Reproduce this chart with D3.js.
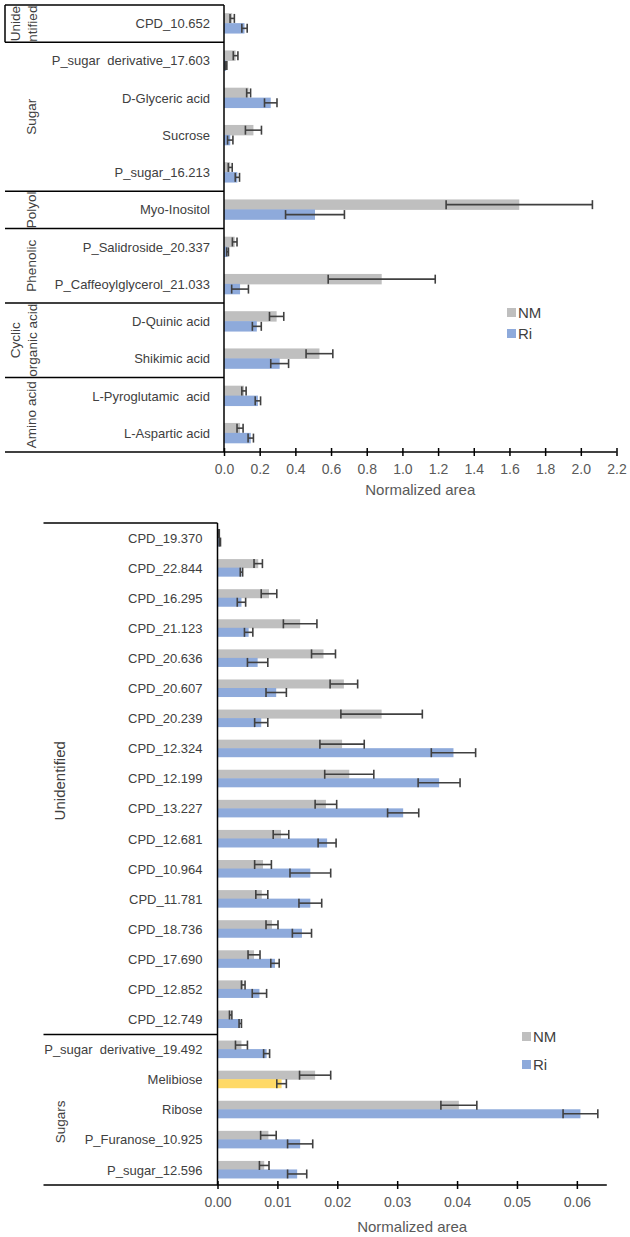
<!DOCTYPE html>
<html><head><meta charset="utf-8">
<script src="https://cdn.jsdelivr.net/npm/d3@7"></script>
<style>
body{margin:0;background:#fff}
text{font-family:"Liberation Sans",Arial,sans-serif}
</style>
</head><body>
<svg id="chart" width="630" height="1237"></svg>
<script>
// ---------- Top panel data ----------
const topCategories = ["CPD_10.652","P_sugar  derivative_17.603","D-Glyceric acid","Sucrose","P_sugar_16.213","Myo-Inositol","P_Salidroside_20.337","P_Caffeoylglycerol_21.033","D-Quinic acid","Shikimic acid","L-Pyroglutamic  acid","L-Aspartic acid"];
const topNM    = [0.046,0.065,0.138,0.165,0.035,1.655,0.060,0.884,0.295,0.535,0.112,0.090];
const topNMErr = [0.012,0.013,0.011,0.045,0.011,0.410,0.013,0.300,0.040,0.075,0.012,0.017];
const topRi    = [0.115,0.012,0.262,0.035,0.075,0.510,0.020,0.090,0.184,0.312,0.190,0.150];
const topRiErr = [0.015,0.004,0.035,0.015,0.012,0.165,0.005,0.047,0.025,0.050,0.015,0.015];
const topGroupLabels = [["Unide","ntified"],["Sugar"],["Polyol"],["Phenolic"],["Cyclic","organic acid"],["Amino acid"]];
const topGroupSizes = [1,4,1,2,2,2];
const topTickLabels = ["0.0","0.2","0.4","0.6","0.8","1.0","1.2","1.4","1.6","1.8","2.0","2.2"];

// ---------- Bottom panel data ----------
const botCategories = ["CPD_19.370","CPD_22.844","CPD_16.295","CPD_21.123","CPD_20.636","CPD_20.607","CPD_20.239","CPD_12.324","CPD_12.199","CPD_13.227","CPD_12.681","CPD_10.964","CPD_11.781","CPD_18.736","CPD_17.690","CPD_12.852","CPD_12.749","P_sugar  derivative_19.492","Melibiose","Ribose","P_Furanose_10.925","P_sugar_12.596"];
const botNM    = [0.0002,0.0068,0.0086,0.0138,0.0177,0.0211,0.0274,0.0208,0.0220,0.0181,0.0106,0.0076,0.0074,0.0091,0.0061,0.0043,0.0022,0.0040,0.0163,0.0403,0.0085,0.0078];
const botNMErr = [0.0001,0.0007,0.0013,0.0028,0.0020,0.0023,0.0068,0.0037,0.0041,0.0018,0.0013,0.0014,0.0010,0.0010,0.0010,0.0003,0.0002,0.0010,0.0026,0.0030,0.0013,0.0008];
const botRi    = [0.0004,0.0040,0.0040,0.0052,0.0067,0.0098,0.0073,0.0394,0.0370,0.0310,0.0183,0.0155,0.0155,0.0141,0.0096,0.0070,0.0038,0.0082,0.0107,0.0606,0.0138,0.0133];
const botRiErr = [0.0001,0.0002,0.0007,0.0007,0.0017,0.0017,0.0011,0.0037,0.0035,0.0026,0.0015,0.0034,0.0019,0.0016,0.0007,0.0012,0.0002,0.0005,0.0008,0.0029,0.0021,0.0016];
const botGroupLabels = [["Unidentified"],["Sugars"]];
const botGroupSizes = [17,5];
const botTickLabels = ["0.00","0.01","0.02","0.03","0.04","0.05","0.06"];
const seriesNames = ["NM","Ri"];
const highlightCategory = "Melibiose";

// ---------- Styles ----------
const GRAY = "#bfbfbf", BLUE = "#8eaadb", YELLOW = "#ffd966", ERR = "#404040", TXT = "#404040", TICK = "#595959";

const svg = d3.select("#chart");

function drawPanel(cfg) {
  const g = svg.append("g");
  const x = d3.scaleLinear().domain([0, cfg.xMax]).range([cfg.x0, cfg.x1]);
  const y = d3.scaleBand().domain(cfg.categories).range([cfg.yTop, cfg.yBot]).padding(0);
  const bw = y.bandwidth();
  const h = bw * cfg.barFrac;

  const rows = cfg.categories.map((c, i) => ({c, nm: cfg.nm[i], nme: cfg.nmErr[i], ri: cfg.ri[i], rie: cfg.riErr[i]}));

  const bars = [];
  rows.forEach(r => {
    const cy = y(r.c) + bw / 2;
    bars.push({v: r.nm, e: r.nme, y0: cy - h, fill: GRAY});
    bars.push({v: r.ri, e: r.rie, y0: cy - 0.5, fill: r.c === highlightCategory ? YELLOW : BLUE});
  });
  g.selectAll("rect.bar").data(bars).join("rect")
    .attr("x", x(0)).attr("y", d => d.y0)
    .attr("width", d => x(d.v) - x(0)).attr("height", h)
    .attr("fill", d => d.fill);

  const eg = g.selectAll("g.err").data(bars).join("g").attr("stroke", ERR).attr("stroke-width", 1.6);
  eg.append("line").attr("x1", d => x(Math.max(0, d.v - d.e))).attr("x2", d => x(d.v + d.e))
    .attr("y1", d => d.y0 + h / 2).attr("y2", d => d.y0 + h / 2);
  eg.append("line").attr("x1", d => x(Math.max(0, d.v - d.e))).attr("x2", d => x(Math.max(0, d.v - d.e)))
    .attr("y1", d => d.y0 + h / 2 - cfg.cap / 2).attr("y2", d => d.y0 + h / 2 + cfg.cap / 2);
  eg.append("line").attr("x1", d => x(d.v + d.e)).attr("x2", d => x(d.v + d.e))
    .attr("y1", d => d.y0 + h / 2 - cfg.cap / 2).attr("y2", d => d.y0 + h / 2 + cfg.cap / 2);

  g.selectAll("text.cat").data(cfg.categories).join("text")
    .attr("x", cfg.x0 - cfg.labelGap).attr("y", d => y(d) + bw / 2).attr("dy", "0.35em")
    .attr("text-anchor", "end").attr("font-size", 13).attr("fill", TXT)
    .style("white-space", "pre").text(d => d);

  g.append("line").attr("x1", cfg.x0).attr("x2", cfg.x0).attr("y1", cfg.yTop).attr("y2", cfg.yBot)
    .attr("stroke", "#000").attr("stroke-width", 1.5);
  g.append("line").attr("x1", cfg.left).attr("x2", cfg.x0).attr("y1", cfg.yTop).attr("y2", cfg.yTop)
    .attr("stroke", "#000").attr("stroke-width", 1.5);

  let acc = 0;
  cfg.groupSizes.forEach((s, gi) => {
    const startY = y(cfg.categories[acc]);
    const endY = y(cfg.categories[acc + s - 1]) + bw;
    acc += s;
    if (acc < cfg.categories.length) {
      g.append("line").attr("x1", cfg.left).attr("x2", cfg.x0).attr("y1", endY).attr("y2", endY)
        .attr("stroke", "#000").attr("stroke-width", 1.5);
    }
    const lines = cfg.groupLabels[gi];
    const cy = (startY + endY) / 2 + (cfg.groupShift ? cfg.groupShift[gi] : 0);
    lines.forEach((ln, li) => {
      const cx = lines.length === 1 ? cfg.groupX : cfg.groupX2[li];
      g.append("text").attr("transform", `translate(${cx},${cy}) rotate(-90)`)
        .attr("text-anchor", "middle").attr("dy", "0.35em")
        .attr("font-size", cfg.groupFont ? cfg.groupFont[gi] : 13.5).attr("fill", TXT).text(ln);
    });
  });
  if (cfg.leftBoxBottom) {
    g.append("line").attr("x1", cfg.left).attr("x2", cfg.left).attr("y1", cfg.yTop).attr("y2", y(cfg.categories[0]) + bw)
      .attr("stroke", "#000").attr("stroke-width", 1.5);
  }

  const ticks = cfg.tickLabels.map(Number);
  const ax = g.append("g").attr("transform", `translate(0,${cfg.yBot})`)
    .call(d3.axisBottom(x).tickValues(ticks).tickFormat((d, i) => cfg.tickLabels[i]).tickSizeInner(8).tickSizeOuter(0));
  ax.select(".domain").remove();
  ax.selectAll(".tick line").attr("y1", -4).attr("y2", 4).attr("stroke", "#000").attr("stroke-width", 1.5);
  ax.selectAll(".tick text").attr("y", 12).attr("dy", "0.71em").attr("font-size", 14)
    .attr("fill", TICK).attr("font-family", "Liberation Sans, Arial, sans-serif");
  g.append("line").attr("x1", cfg.left).attr("x2", cfg.x1).attr("y1", cfg.yBot).attr("y2", cfg.yBot)
    .attr("stroke", "#000").attr("stroke-width", 1.5);
  g.append("text").attr("x", (cfg.x0 + cfg.x1) / 2).attr("y", cfg.yBot + cfg.titleOffset).attr("dy", "0.35em")
    .attr("text-anchor", "middle").attr("font-size", 15).attr("fill", TICK).text("Normalized area");

  const colors = [GRAY, BLUE];
  seriesNames.forEach((s, i) => {
    const ly = cfg.legendY + i * cfg.legendGap;
    g.append("rect").attr("x", cfg.legendX).attr("y", ly).attr("width", 9).attr("height", 9).attr("fill", colors[i]);
    g.append("text").attr("x", cfg.legendX + 11).attr("y", ly + 4.5).attr("dy", "0.35em")
      .attr("font-size", 15).attr("fill", TXT).text(s);
  });
}

drawPanel({
  categories: topCategories, nm: topNM, nmErr: topNMErr, ri: topRi, riErr: topRiErr,
  groupLabels: topGroupLabels, groupSizes: topGroupSizes, tickLabels: topTickLabels,
  xMax: 2.2, x0: 224, x1: 616.5, yTop: 5, yBot: 452, left: 5, barFrac: 0.28, cap: 9,
  labelGap: 14, groupX: 31, groupX2: [15.5, 32], leftBoxBottom: true,
  titleOffset: 38, legendX: 507, legendY: 308, legendGap: 21
});

drawPanel({
  categories: botCategories, nm: botNM, nmErr: botNMErr, ri: botRi, riErr: botRiErr,
  groupLabels: botGroupLabels, groupSizes: botGroupSizes, tickLabels: botTickLabels,
  xMax: 0.065, x0: 217.5, x1: 606.8, yTop: 523, yBot: 1185, left: 43.5, barFrac: 0.3, cap: 9,
  labelGap: 15, groupX: 60, groupX2: [60], leftBoxBottom: false, groupFont: [15, 13.5], groupShift: [2, 12],
  titleOffset: 42, legendX: 522, legendY: 1032, legendGap: 28
});
</script>
</body></html>
